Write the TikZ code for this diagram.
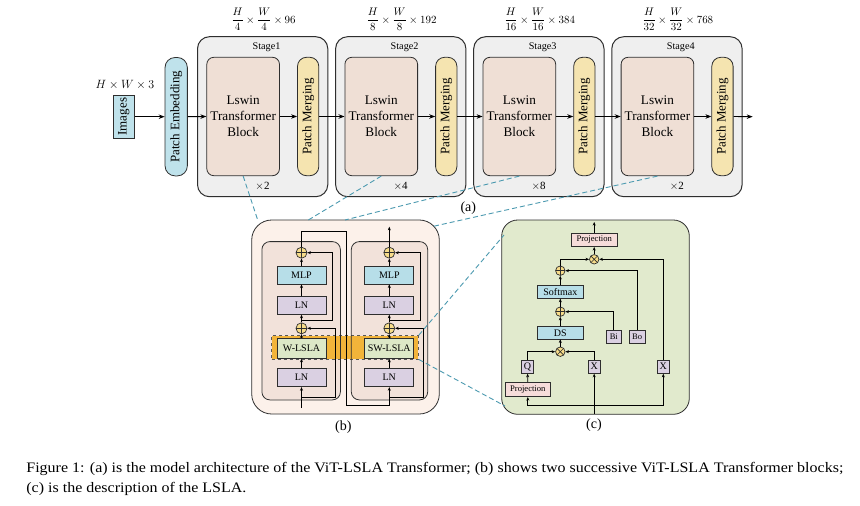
\documentclass[tikz,border=0pt]{standalone}
\usepackage{amsmath}
\usepackage{fontspec}
\setmainfont{Liberation Serif}
\usepackage{graphicx}
\usetikzlibrary{arrows.meta,calc}
\definecolor{stagegray}{HTML}{EFEFEF}
\definecolor{lswin}{HTML}{EFDFD5}
\definecolor{pmyel}{HTML}{F5E4B0}
\definecolor{peblue}{HTML}{BFE2EB}
\definecolor{bouter}{HTML}{FCF1EA}
\definecolor{binner}{HTML}{F2E2DA}
\definecolor{mlpblue}{HTML}{B7DEE8}
\definecolor{lnpurple}{HTML}{DAD0E2}
\definecolor{lslagreen}{HTML}{DDE8C7}
\definecolor{bandorange}{HTML}{F2B43A}
\definecolor{opfill}{HTML}{F7DC8A}
\definecolor{couter}{HTML}{E1EACD}
\definecolor{projpink}{HTML}{F6DCDA}
\definecolor{tealc}{HTML}{4C9AB0}
\definecolor{edge}{HTML}{2E2E2E}
\newsavebox\capone
\newdimen\capw
\newcommand{\capfont}{\fontsize{14.5}{17}\selectfont}
\begin{document}
\sbox\capone{\capfont Figure 1: (a) is the model architecture of the ViT-LSLA Transformer; (b) shows two successive ViT-LSLA Transformer blocks;}%
\capw=\wd\capone
\pgfmathsetmacro\capsx{817/\capw}%
\begin{tikzpicture}[x=1pt,y=-1pt,line width=0.8pt,
  box/.style={draw=edge,inner sep=0pt,align=center},
  stagebox/.style={draw=edge,fill=stagegray,rounded corners=12pt,line width=1pt,minimum width=130.3pt,minimum height=160pt,inner sep=0pt},
  lswbox/.style={box,fill=lswin,rounded corners=7pt,minimum width=72.7pt,minimum height=118.4pt,font=\fontsize{13.2}{16}\selectfont},
  pmbox/.style={box,fill=pmyel,rounded corners=9pt,minimum width=21.3pt,minimum height=118.4pt,font=\fontsize{13}{15}\selectfont},
  aarr/.style={-{Stealth[length=6pt,width=4.5pt]},line width=0.9pt},
  sarr/.style={-{Stealth[length=3.6pt,width=3pt]},line width=0.75pt},
  sline/.style={line width=0.75pt},
  bbox/.style={box,line width=0.8pt,minimum width=49pt,font=\fontsize{10}{12}\selectfont},
  cbox/.style={box,line width=0.7pt,minimum height=13.3pt},
  oplus/.style={circle,draw=edge,fill=opfill,line width=0.7pt,inner sep=0pt,minimum size=#1,
    path picture={\draw[line width=0.6pt] (path picture bounding box.north) -- (path picture bounding box.south)
      (path picture bounding box.west) -- (path picture bounding box.east);}},
  otimes/.style={circle,draw=edge,fill=opfill,line width=0.7pt,inner sep=0pt,minimum size=#1,
    path picture={\draw[line width=0.6pt]
      ([shift={(45:6pt)}]path picture bounding box.center) -- ([shift={(225:6pt)}]path picture bounding box.center)
      ([shift={(135:6pt)}]path picture bounding box.center) -- ([shift={(315:6pt)}]path picture bounding box.center);}},
  zoomline/.style={draw=tealc,dash pattern=on 5pt off 3pt,line width=0.9pt},
  lbl/.style={inner sep=0pt}
]
\useasboundingbox[fill=white] (0,0) rectangle (860,506);

% ---------------- (a) ----------------
\node[box,fill=peblue,minimum width=21pt,minimum height=43.4pt,font=\fontsize{13}{15}\selectfont] (img) at (123.8,116.7) {\rotatebox{90}{Images}};
\node[lbl,font=\fontsize{12}{14}\selectfont] (hw3) at (125,85) {$H\times W\times 3$};
\node[box,fill=peblue,rounded corners=10pt,minimum width=22.3pt,minimum height=118.4pt,font=\fontsize{13}{15}\selectfont] (pe) at (176.2,116.7) {\rotatebox{90}{Patch Embedding}};

\foreach \i/\rep/\num/\den in {0/2/96/4,1/4/192/8,2/8/384/16,3/2/768/32}{
  \pgfmathsetmacro\L{197.5+138.1*\i}
  \pgfmathtruncatemacro\k{\i+1}
  \node[stagebox] (st\i) at (\L+65.15,116.7) {};
  \node[lbl,font=\fontsize{10.2}{12}\selectfont] (stl\i) at (\L+69,47.7) {Stage\k};
  \node[lbl,font=\fontsize{11}{13}\selectfont] (rep\i) at (\L+65,186) {$\times$\rep};
  \node[lbl,font=\fontsize{10.5}{12}\selectfont] (dim\i) at (\L+66,19.5) {$\dfrac{H}{\den}\times\dfrac{W}{\den}\times\num$};
  \node[lswbox] (lsw\i) at (\L+45.65,116.5) {Lswin\\Transformer\\Block};
  \node[pmbox] (pm\i) at (\L+110.65,116.5) {\rotatebox{90}{Patch Merging}};
}
\coordinate (aend) at (752.7,116.7);
\draw[aarr] (img.east) -- (pe.west |- img.east);
\draw[aarr] (pe.east) -- (lsw0.west);
\foreach \i in {0,...,3}{ \draw[aarr] (lsw\i.east) -- (pm\i.west); }
\foreach \i/\j in {0/1,1/2,2/3}{ \draw[aarr] (pm\i.east) -- (lsw\j.west); }
\draw[aarr] (pm3.east) -- (aend);
\node[lbl,font=\fontsize{14}{16}\selectfont] (la) at (468.3,207.7) {(a)};

% ---------------- (b) ----------------
\node[draw=edge,fill=bouter,rounded corners=20pt,line width=0.8pt,minimum width=187.6pt,minimum height=194pt,inner sep=0pt] (bout) at (345.5,317) {};
\node[fill=binner,rounded corners=8pt,minimum width=77.7pt,minimum height=157.5pt,inner sep=0pt] (binL) at (301.15,320.75) {};
\node[fill=binner,rounded corners=8pt,minimum width=75.6pt,minimum height=157.5pt,inner sep=0pt] (binR) at (389.5,320.75) {};
\node[fill=bandorange,draw=edge!80,dashed,line width=0.9pt,minimum width=146.6pt,minimum height=23.3pt,inner sep=0pt] (band) at (345,347.35) {};
\draw[draw=edge,line width=0.8pt,rounded corners=8pt] (binL.south west) rectangle (binL.north east);
\draw[draw=edge,line width=0.8pt,rounded corners=8pt] (binR.south west) rectangle (binR.north east);

\foreach \c/\x/\att in {L/301.5/W-LSLA,R/389.3/SW-LSLA}{
  \node[bbox,fill=lnpurple,minimum height=18.4pt] (lnb\c) at (\x,377.5) {LN};
  \node[bbox,fill=lslagreen,minimum height=20pt] (lsla\c) at (\x,348.3) {\att};
  \node[oplus=11pt] (opm\c) at (\x,328.3) {};
  \node[bbox,fill=lnpurple,minimum height=17.6pt] (lnt\c) at (\x,305.5) {LN};
  \node[bbox,fill=mlpblue,minimum height=18pt] (mlp\c) at (\x,275) {MLP};
  \node[oplus=11pt] (opt\c) at (\x,252.7) {};
  \draw[sarr] (lnb\c) -- (lsla\c);
  \draw[sarr] (lsla\c) -- (opm\c);
  \draw[sarr] (opm\c) -- (lnt\c);
  \draw[sarr] (lnt\c) -- (mlp\c);
  \draw[sarr] (mlp\c) -- (opt\c);
  \coordinate (ska\c) at (\x,320);
  \coordinate (skb\c) at (\x,397.5);
}
\coordinate (inL) at (301.5,408);
\coordinate (outR) at (389.3,226.7);
\draw[sarr] (inL) -- (lnbL.south);
\draw[sarr] (skaL) -- (332,320) -- (332,252.7) -- (optL.east);
\draw[sarr] (skbL) -- (335.5,397.5) -- (335.5,328.3) -- (opmL.east);
\draw[sarr] (optL.north) -- (301.5,231.7) -- (346,231.7) -- (346,405) -- (389.3,405) -- (lnbR.south);
\draw[sarr] (skaR) -- (420,320) -- (420,252.7) -- (optR.east);
\draw[sarr] (skbR) -- (423.5,397.5) -- (423.5,328.3) -- (opmR.east);
\draw[sarr] (optR.north) -- (outR);
\node[lbl,font=\fontsize{14}{16}\selectfont] (lb) at (343.3,426.7) {(b)};

% ---------------- (c) ----------------
\node[draw=edge,fill=couter,rounded corners=16pt,line width=0.8pt,minimum width=187.6pt,minimum height=194.3pt,inner sep=0pt] (cout) at (595.5,317.15) {};
\node[cbox,fill=projpink,minimum width=46.3pt,font=\fontsize{8.6}{10}\selectfont] (pt) at (594.2,240) {Projection};
\node[otimes=9.5pt] (ott) at (594.2,259.3) {};
\node[oplus=9.5pt] (opu) at (560.3,270.7) {};
\node[cbox,fill=mlpblue,minimum width=46.6pt,minimum height=12.6pt,font=\fontsize{10}{12}\selectfont] (sm) at (560.3,292) {Softmax};
\node[oplus=9.5pt] (opl) at (560.3,311.7) {};
\node[cbox,fill=mlpblue,minimum width=46.6pt,minimum height=12.3pt,font=\fontsize{10}{12}\selectfont] (ds) at (560.3,332.8) {DS};
\node[otimes=9.5pt] (otl) at (560.3,351.7) {};
\node[cbox,fill=lnpurple,minimum width=11.6pt,font=\fontsize{10}{12}\selectfont] (q) at (527.5,366.7) {Q};
\node[cbox,fill=lnpurple,minimum width=11.7pt,font=\fontsize{10}{12}\selectfont] (x1) at (594.2,366.7) {X};
\node[cbox,fill=lnpurple,minimum width=12pt,font=\fontsize{10}{12}\selectfont] (x2) at (663.3,366.7) {X};
\node[cbox,fill=lnpurple,minimum width=14.3pt,font=\fontsize{8.5}{10}\selectfont] (bi) at (613.8,336.7) {Bi};
\node[cbox,fill=lnpurple,minimum width=15.7pt,font=\fontsize{8.5}{10}\selectfont] (bo) at (637.2,336.7) {Bo};
\node[cbox,fill=projpink,minimum width=45.7pt,minimum height=14.4pt,font=\fontsize{8.6}{10}\selectfont] (pb) at (527.8,389.5) {Projection};
\coordinate (cin) at (594.2,413.5);
\coordinate (cbl) at (527.8,405.7);
\coordinate (cbr) at (663.3,405.7);
\coordinate (ctop) at (594.2,222);
\draw[sarr] (cin) -- (x1.south);
\draw[sline] (cbl) -- (cbr);
\draw[sarr] (cbl) -- (pb.south);
\draw[sarr] (cbr) -- (x2.south);
\draw[sarr] (pb) -- (q);
\draw[sarr] (q.north) |- (otl.west);
\draw[sarr] (x1.north) |- (otl.east);
\draw[sarr] (otl) -- (ds);
\draw[sarr] (ds) -- (opl);
\draw[sarr] (bi.north) |- (opl.east);
\draw[sarr] (opl) -- (sm);
\draw[sarr] (sm) -- (opu);
\draw[sarr] (bo.north) |- (opu.east);
\draw[sarr] (opu.north) |- (ott.west);
\draw[sarr] (x2.north) |- (ott.east);
\draw[sarr] (ott) -- (pt);
\draw[sarr] (pt.north) -- (ctop);
\node[lbl,font=\fontsize{14}{16}\selectfont] (lc) at (594,425) {(c)};

% ---------------- zoom lines ----------------
\coordinate (z1) at (257.7,220);
\coordinate (z2) at (308.3,220);
\coordinate (z3) at (345,220);
\coordinate (z4) at (431.7,226.7);
\coordinate (z5) at (504,235);
\coordinate (z6) at (505,406);
\draw[zoomline] (lsw0.south) -- (z1);
\draw[zoomline] (lsw1.south) -- (z2);
\draw[zoomline] (lsw2.south) -- (z3);
\draw[zoomline] (lsw3.south) -- (z4);
\draw[zoomline] (band.north east) -- (z5);
\draw[zoomline] (band.south east) -- (z6);

% ---------------- caption ----------------
\node[anchor=base west,inner sep=0pt] (cap1) at (26,472) {\scalebox{\capsx}[1]{\usebox\capone}};
\node[anchor=base west,inner sep=0pt] (cap2) at (26,492) {\scalebox{\capsx}[1]{\capfont (c) is the description of the LSLA.}};
\end{tikzpicture}
\end{document}
